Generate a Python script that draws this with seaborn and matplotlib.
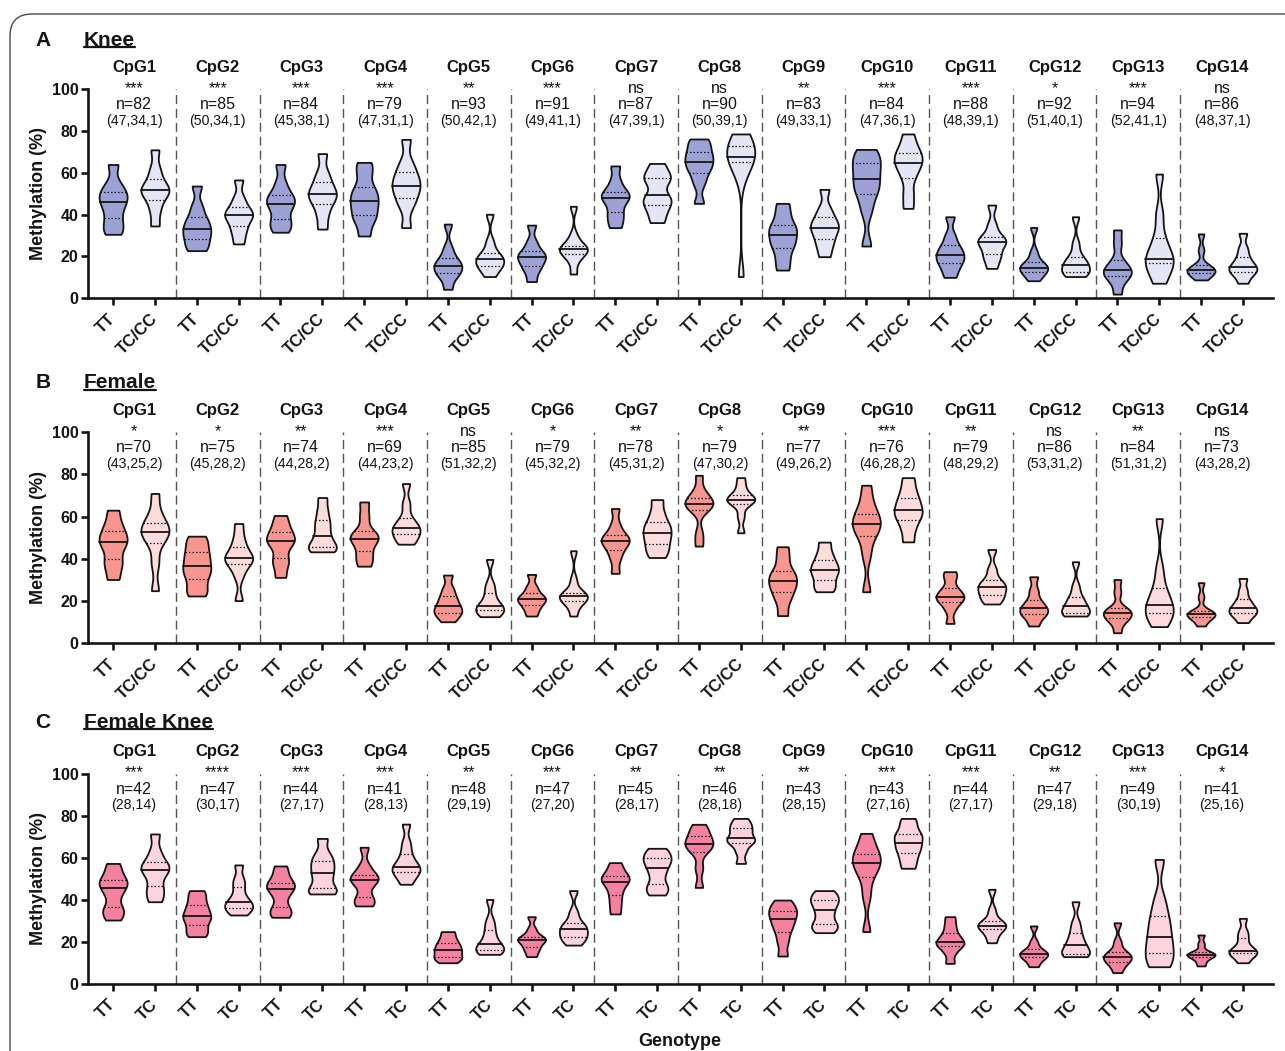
import numpy as np
import pandas as pd
import matplotlib
matplotlib.use("Agg")
import matplotlib.pyplot as plt
import matplotlib.transforms as mtrans
import seaborn as sns
from matplotlib.patches import FancyBboxPatch
from matplotlib.lines import Line2D

# ---------------------------------------------------------------------------
# Methylation (%) per CpG site; each list holds representative observations
# (min, ., Q1, ., median, ., Q3, ., max) for one genotype group.
# ---------------------------------------------------------------------------
CPG = [f"CpG{i}" for i in range(1, 15)]

knee_tt = [
    [30.6, 34, 38.2, 43, 46, 49, 50.8, 55, 64],
    [22.8, 25, 28.5, 31, 33.1, 36, 38.7, 44, 53.7],
    [31.6, 35, 37.8, 43, 45.1, 48, 49.4, 55, 64],
    [29.8, 37, 39.7, 44, 46.5, 50, 53.1, 60, 65],
    [4.3, 10, 12, 14, 15.5, 17, 19.3, 24, 35.5],
    [8, 13, 15.5, 18, 19.6, 21, 22.8, 27, 35],
    [33.8, 38, 41.4, 46, 47.8, 50, 51, 56, 63.3],
    [45.4, 55, 60.1, 63, 65.3, 68, 70.1, 74, 76.2],
    [13.5, 19, 24.2, 27, 30.1, 33, 35.1, 40, 45.4],
    [25, 42, 49.9, 53, 56.9, 61, 64.5, 68, 71.2],
    [10, 14, 17, 19, 20.6, 23, 25.3, 30, 39],
    [8.4, 11, 12.7, 14, 14.7, 16, 17.5, 22, 33.9],
    [2, 8, 10.7, 12, 13.5, 15, 18.3, 26, 32.7],
    [8.8, 11, 12, 13, 13.5, 14.5, 15.9, 23, 30.8],
]
knee_tc = [
    [34.6, 42, 47.2, 50.5, 51.8, 53, 56.9, 62, 71],
    [26, 31, 34.6, 38, 39.8, 41, 43.7, 48, 56.6],
    [33.1, 40, 45.1, 48, 49.9, 52, 55.5, 60, 69.2],
    [33.8, 44, 48.1, 52, 53.9, 57, 60.2, 65, 76],
    [10.4, 14, 15.5, 17, 18.6, 20, 21.8, 27, 40.2],
    [11.6, 18, 21.2, 22.5, 23.4, 24.5, 25.2, 30, 44],
    [36.2, 41, 44.6, 47, 49.4, 55, 57.7, 60, 64.5],
    [10.4, 58, 65.3, 66.5, 67.7, 70, 73, 76, 78.6],
    [19.9, 25, 28.4, 32, 33.8, 36, 38.7, 43, 52.1],
    [43, 50, 57.7, 62, 64.9, 67, 69.6, 73, 78.6],
    [14.3, 19, 21.2, 25, 26.9, 28, 29.5, 35, 44.6],
    [10.4, 12, 12.7, 14.5, 16.1, 18, 19.9, 26, 39],
    [7.2, 12, 17, 18, 18.6, 24, 29, 40, 59.4],
    [7.2, 11, 12.7, 14, 15.1, 17, 19.9, 24, 31.1],
]
knee_stars = ["***", "***", "***", "***", "**", "***", "ns",
              "ns", "**", "***", "***", "*", "***", "ns"]
knee_n = [82, 85, 84, 79, 93, 91, 87, 90, 83, 84, 88, 92, 94, 86]
knee_counts = ["(47,34,1)", "(50,34,1)", "(45,38,1)", "(47,31,1)", "(50,42,1)",
               "(49,41,1)", "(47,39,1)", "(50,39,1)", "(49,33,1)", "(47,36,1)",
               "(48,39,1)", "(51,40,1)", "(52,41,1)", "(48,37,1)"]

female_tt = [
    [30.2, 36, 39.7, 45, 47.9, 50, 53.1, 57, 63],
    [22.4, 26, 30.6, 34, 36.5, 40, 43.1, 47, 50.7],
    [31.2, 37, 40.5, 46, 48.3, 50, 52.6, 56, 60.5],
    [36.5, 40, 43.6, 48, 49.4, 51, 53.1, 60, 66.9],
    [10.2, 13, 14.5, 16, 17.6, 20, 22.4, 26, 32.3],
    [12.9, 16, 18.1, 20, 20.8, 22, 23.9, 27, 32.6],
    [33.1, 40, 44.1, 47, 48.3, 50, 51.2, 56, 63.8],
    [46, 52, 63.3, 65, 65.8, 67, 69, 72, 79.5],
    [13.1, 20, 24.1, 27, 29.4, 32, 34.3, 40, 45.7],
    [24.4, 42, 50.7, 54, 56.4, 59, 61.4, 67, 74.8],
    [9.4, 16, 19.7, 21, 22, 24, 26, 31, 33.9],
    [8.2, 12, 13.9, 15, 16.5, 18, 20.5, 25, 31.5],
    [5, 10, 11.8, 13, 14.5, 15.5, 16.5, 24, 30.2],
    [8.2, 11, 12.6, 13.3, 13.9, 14.5, 15.4, 22, 28.7],
]
female_tc = [
    [24.9, 38, 47.6, 51, 52.6, 55, 56.7, 62, 70.9],
    [20.2, 32, 37.5, 39, 40.3, 42, 45.4, 50, 56.7],
    [43.3, 44.5, 45.4, 48, 51, 55, 58.3, 63, 69],
    [46.9, 49, 51.5, 53, 54.8, 56, 59.4, 66, 75.6],
    [12.6, 14, 15.7, 16.5, 17.5, 20, 23.9, 28, 39.7],
    [12.9, 18, 20.2, 21.5, 22.4, 23, 23.9, 30, 43.8],
    [40.6, 44, 46.9, 50, 52.3, 55, 57.5, 62, 68],
    [52.3, 60, 66.1, 67, 68, 69, 70.1, 74, 78.4],
    [24.4, 27, 29.9, 33, 34.6, 37, 39.4, 43, 47.9],
    [48, 54, 58.3, 61, 63, 66, 68.8, 73, 78.4],
    [18.6, 21, 22.7, 25, 26.5, 28, 29.9, 35, 44.4],
    [12.9, 14, 14.2, 16, 17.6, 20, 22, 27, 38.6],
    [7.9, 12, 14.2, 16, 18.1, 22, 26, 35, 59],
    [9.8, 13, 14.2, 15.5, 16.5, 18.5, 20.8, 25, 30.7],
]
female_stars = ["*", "*", "**", "***", "ns", "*", "**",
                "*", "**", "***", "**", "ns", "**", "ns"]
female_n = [70, 75, 74, 69, 85, 79, 78, 79, 77, 76, 79, 86, 84, 73]
female_counts = ["(43,25,2)", "(45,28,2)", "(44,28,2)", "(44,23,2)", "(51,32,2)",
                 "(45,32,2)", "(45,31,2)", "(47,30,2)", "(49,26,2)", "(46,28,2)",
                 "(48,29,2)", "(53,31,2)", "(51,31,2)", "(43,28,2)"]

fknee_tt = [
    [30.4, 34, 36.4, 42, 45.5, 48, 49.3, 53, 57.3],
    [22.5, 25, 28, 31, 32.3, 35, 37.5, 41, 44.4],
    [31.7, 34, 36.8, 42, 45, 47, 48.2, 52, 56.1],
    [37.1, 39, 41.5, 47, 49.4, 50.5, 51.8, 56, 65],
    [10.1, 12, 13, 15, 16.2, 18, 19.6, 22, 24.9],
    [13, 16, 17.7, 20, 20.9, 21.7, 22.5, 26, 32],
    [33.3, 38, 42.3, 46, 48.6, 50, 51.3, 54, 57.7],
    [45.9, 55, 62.9, 65, 66.5, 68, 70.3, 73, 75.9],
    [13.3, 20, 24.9, 28, 30.7, 33, 34.9, 37, 39.9],
    [24.9, 42, 51, 55, 57.7, 60, 61.8, 66, 71.6],
    [9.8, 15, 18.1, 19, 20.1, 22, 24.4, 28, 32],
    [8.2, 11, 12.7, 13.5, 14.3, 15.3, 16.5, 20, 27.6],
    [5.4, 9, 10.6, 12, 13, 14, 15.4, 20, 29.1],
    [8.6, 11, 13, 13.5, 13.8, 14.5, 15.4, 19, 23.3],
]
fknee_tc = [
    [39.1, 43, 46.6, 52, 54.2, 56, 58, 63, 71.3],
    [32.8, 35, 36.3, 38, 39, 42, 46.3, 50, 56.6],
    [42.8, 44, 45.5, 50, 52.9, 56, 58.6, 62, 69.2],
    [47.4, 51, 53.2, 54.5, 55.8, 58, 61.8, 67, 76],
    [14.1, 15.5, 16.2, 17.5, 19, 22, 25.7, 30, 40.2],
    [18.5, 21, 22.5, 24, 26, 27.5, 29.1, 34, 44.4],
    [42.3, 45, 47.5, 52, 55.3, 58, 59.7, 62, 64.5],
    [57.3, 63, 67.2, 68, 69.2, 72, 74, 76, 78.7],
    [24.4, 27, 28.5, 32, 35.2, 38, 39.9, 42, 44.4],
    [55, 59, 62.4, 65, 67.2, 70, 71.3, 75, 78.7],
    [19.6, 23, 26, 27, 27.6, 29, 30.1, 35, 45],
    [13, 14, 14.3, 16.5, 18.5, 21, 24.4, 29, 39.1],
    [8.2, 11, 14.6, 19, 22.5, 28, 32.3, 40, 59.2],
    [10.1, 13, 14.6, 15.2, 15.8, 18, 21.7, 25, 31.2],
]
fknee_stars = ["***", "****", "***", "***", "**", "***", "**",
               "**", "**", "***", "***", "**", "***", "*"]
fknee_n = [42, 47, 44, 41, 48, 47, 45, 46, 43, 43, 44, 47, 49, 41]
fknee_counts = ["(28,14)", "(30,17)", "(27,17)", "(28,13)", "(29,19)",
                "(27,20)", "(28,17)", "(28,18)", "(28,15)", "(27,16)",
                "(27,17)", "(29,18)", "(30,19)", "(25,16)"]

PANELS = [
    ("A", "Knee", knee_tt, knee_tc, knee_stars, knee_n, knee_counts,
     ["TT", "TC/CC"], ["#9da2d6", "#e4e5f5"]),
    ("B", "Female", female_tt, female_tc, female_stars, female_n, female_counts,
     ["TT", "TC/CC"], ["#f9958f", "#fddcdb"]),
    ("C", "Female Knee", fknee_tt, fknee_tc, fknee_stars, fknee_n, fknee_counts,
     ["TT", "TC"], ["#f4819f", "#fcd3df"]),
]

# ---------------------------------------------------------------------------
sns.set_theme(style="ticks")
plt.rcParams["font.family"] = ["Liberation Sans", "DejaVu Sans"]
INK = "#141414"
plt.rcParams["text.color"] = INK
plt.rcParams["axes.labelcolor"] = INK
plt.rcParams["xtick.color"] = INK
plt.rcParams["ytick.color"] = INK

W, H = 1285, 1051
fig = plt.figure(figsize=(W / 100, H / 100), dpi=100)

# rounded frame around the figure
fig.patches.append(FancyBboxPatch((0.10, -1.0), 14.0, (H - 14) / 100 + 1.0,
                                  boxstyle="round,pad=0,rounding_size=0.22",
                                  transform=fig.dpi_scale_trans, fill=False,
                                  ec="#4a4a4a", lw=1.0))

ax_left, ax_width = 88 / W, (1273 - 88) / W
ax_rows = [(298.3, 89.2), (643.3, 432.0), (984.0, 773.6)]
title_y = [40, 383, 722]
shift_right = mtrans.ScaledTranslation(5 / 100, 0, fig.dpi_scale_trans)

titles = []
for (letter, name, tt, tc, stars, ns, counts, genos, colors), (pb, pt), ty in zip(
        PANELS, ax_rows, title_y):
    ax = fig.add_axes([ax_left, 1 - pb / H, ax_width, (pb - pt) / H])

    rows, order = [], []
    for i, cpg in enumerate(CPG):
        for g, vals in ((genos[0], tt[i]), (genos[1], tc[i])):
            slot = f"{cpg} {g}"
            order.append(slot)
            rows.extend((slot, g, v) for v in vals)
    df = pd.DataFrame(rows, columns=["slot", "genotype", "value"])

    sns.violinplot(data=df, x="slot", y="value", hue="genotype", order=order,
                   hue_order=genos, palette=dict(zip(genos, colors)),
                   dodge=False, cut=0, inner="quart", density_norm="width",
                   width=0.67, bw_adjust=0.5, linewidth=1.3, linecolor=INK,
                   saturation=1, legend=False, ax=ax)

    # median solid, quartiles dotted
    for j, ln in enumerate(list(ax.lines)):
        ln.set_color(INK)
        if j % 3 == 1:
            ln.set_linestyle("-")
            ln.set_linewidth(1.3)
        else:
            ln.set_linestyle((0, (1.2, 1.6)))
            ln.set_linewidth(0.9)

    ax.vlines([2 * i + 1.5 for i in range(13)], 0, 100, colors="#555555",
              linestyles=(0, (6.5, 3.5)), linewidth=1.0, zorder=0)

    ax.set_xlim(-0.6, 27.72)
    ax.set_ylim(0, 100)
    ax.set_yticks(range(0, 101, 20))
    ax.set_xticks(range(28))
    ax.set_xticklabels(genos * 14, rotation=45, ha="right", va="center",
                       rotation_mode="anchor", fontweight="bold", fontsize=12)
    for lab in ax.get_xticklabels():
        lab.set_transform(lab.get_transform() + shift_right)
    for lab in ax.get_yticklabels():
        lab.set_fontweight("bold")
        lab.set_fontsize(11.5)
    ax.set_xlabel("")
    ax.set_ylabel("Methylation (%)", fontweight="bold", fontsize=13)
    ax.yaxis.set_label_coords(-0.035, 0.5)
    sns.despine(ax=ax)
    for s in ("left", "bottom"):
        ax.spines[s].set_linewidth(1.9)
        ax.spines[s].set_color(INK)
    ax.tick_params(axis="both", width=1.9, length=5)
    ax.tick_params(axis="x", pad=8)
    ax.tick_params(axis="y", pad=2)

    for i in range(14):
        xc = 2 * i + 0.5
        ax.text(xc, 110.3, CPG[i], ha="center", va="center", fontsize=12,
                fontweight="bold", clip_on=False)
        ax.text(xc, 89.0, f"{stars[i]}\nn={ns[i]}", ha="center", va="bottom",
                multialignment="center", linespacing=1.1, fontsize=11.5,
                clip_on=False)
        ax.text(xc, 85.0, counts[i], ha="center", va="center",
                fontsize=10.2, clip_on=False)

    fig.text(43 / W, 1 - ty / H, letter, ha="center", va="center",
             fontsize=15, fontweight="bold")
    titles.append(fig.text(84 / W, 1 - ty / H, name, ha="left", va="center",
                           fontsize=15, fontweight="bold"))

fig.text(680 / W, 1 - 1042 / H, "Genotype", ha="center", va="center",
         fontsize=13, fontweight="bold")

# underline the panel names
fig.canvas.draw()
for t in titles:
    bb = t.get_window_extent()
    y = (bb.y0 + 2.5) / H
    fig.add_artist(Line2D([bb.x0 / W, bb.x1 / W], [y, y],
                          transform=fig.transFigure, color=INK, lw=1.6))

fig.savefig("out.png", dpi=100)
